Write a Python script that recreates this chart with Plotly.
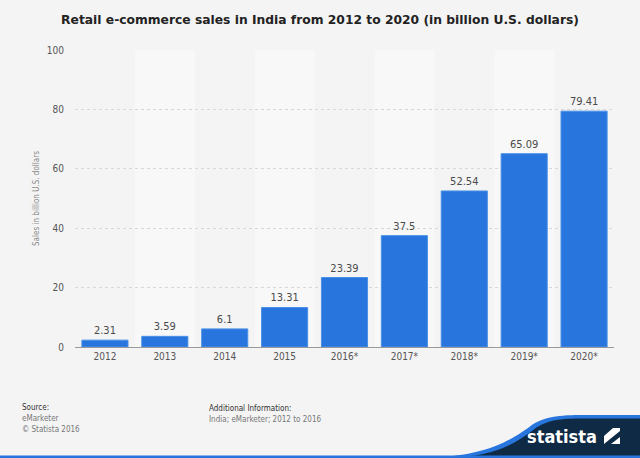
import plotly.graph_objects as go

years = ["2012", "2013", "2014", "2015", "2016*", "2017*", "2018*", "2019*", "2020*"]
sales = [2.31, 3.59, 6.1, 13.31, 23.39, 37.5, 52.54, 65.09, 79.41]
labels = ["2.31", "3.59", "6.1", "13.31", "23.39", "37.5", "52.54", "65.09", "79.41"]
y_ticks = [0, 20, 40, 60, 80, 100]

W, H = 640, 458
L, R, T, B = 75, 614, 50, 347
FONT = "DejaVu Sans Condensed, DejaVu Sans"

def px(x):
    return (x - L) / (R - L)

def py(y):
    return (B - y) / (B - T)

fig = go.Figure()
fig.add_trace(go.Bar(
    x=years, y=sales, text=labels, textposition="outside",
    textfont=dict(family=FONT, size=11, color="#4a4a4a"),
    marker=dict(color="#2876dd", line=dict(color="#4a90e8", width=1)),
    width=0.77, cliponaxis=False, hoverinfo="skip",
))

shapes = []
for i in range(1, len(years), 2):
    shapes.append(dict(type="rect", xref="x", yref="paper", x0=i - 0.5, x1=i + 0.5,
                       y0=0, y1=1, fillcolor="#f8f8f8", line=dict(width=0), layer="below"))

swoosh = (f"M {px(430)} {py(458)} "
          f"C {px(490)} {py(455)}, {px(510)} {py(440)}, {px(528)} {py(428)} "
          f"C {px(540)} {py(418)}, {px(555)} {py(415)}, {px(580)} {py(415)} "
          f"L {px(642)} {py(415)} L {px(642)} {py(458)} Z")
navy = (f"M {px(452)} {py(458)} "
        f"C {px(500)} {py(455)}, {px(516)} {py(442)}, {px(532)} {py(431)} "
        f"C {px(544)} {py(421)}, {px(557)} {py(418.5)}, {px(580)} {py(418.5)} "
        f"L {px(642)} {py(418.5)} L {px(642)} {py(458)} Z")
bottom_line = f"M {px(-2)} {py(455.5)} L {px(642)} {py(455.5)} L {px(642)} {py(459)} L {px(-2)} {py(459)} Z"
shapes += [
    dict(type="path", xref="paper", yref="paper", path=swoosh, fillcolor="#2876dd", line=dict(width=0)),
    dict(type="path", xref="paper", yref="paper", path=navy, fillcolor="#0f2a45", line=dict(width=0)),
    dict(type="path", xref="paper", yref="paper", path=bottom_line, fillcolor="#2876dd", line=dict(width=0)),
    dict(type="rect", xref="paper", yref="paper", x0=px(604), x1=px(620), y0=py(444), y1=py(428),
         fillcolor="white", line=dict(width=0)),
    dict(type="path", xref="paper", yref="paper",
         path=f"M {px(604)} {py(444)} L {px(620)} {py(431)} L {px(620)} {py(437)} L {px(611)} {py(444)} Z",
         fillcolor="#0f2a45", line=dict(width=0)),
    dict(type="path", xref="paper", yref="paper",
         path=f"M {px(604)} {py(428)} L {px(613)} {py(428)} L {px(604)} {py(436)} Z",
         fillcolor="#0f2a45", line=dict(width=0)),
]

ann = [
    dict(text="Source:", x=20, y=407, color="#333"),
    dict(text="eMarketer", x=20, y=418, color="#777"),
    dict(text="© Statista 2016", x=20, y=429, color="#777"),
    dict(text="Additional Information:", x=207, y=408, color="#333"),
    dict(text="India; eMarketer; 2012 to 2016", x=207, y=420, color="#777"),
]
annotations = []
for a in ann:
    annotations.append(dict(text=a["text"], xref="paper", yref="paper", x=px(a["x"]), y=py(a["y"]),
                            xanchor="left", yanchor="middle", showarrow=False,
                            font=dict(family=FONT, size=8, color=a["color"])))
annotations.append(dict(text="<b>statista</b>", xref="paper", yref="paper", x=px(599), y=py(436),
                        xanchor="right", yanchor="middle", showarrow=False,
                        font=dict(family=FONT, size=18, color="white")))

fig.update_layout(
    width=W, height=H,
    paper_bgcolor="#f4f4f4", plot_bgcolor="#f4f4f4",
    margin=dict(l=L, r=W - R, t=T, b=H - B),
    showlegend=False,
    shapes=shapes,
    annotations=annotations,
    title=dict(text="<b>Retail e-commerce sales in India from 2012 to 2020 (in billion U.S. dollars)</b>",
               x=0.5, xref="container", y=1 - 20 / H, yanchor="middle", xanchor="center",
               font=dict(family="DejaVu Sans", size=12.3, color="#222")),
    xaxis=dict(type="category", showgrid=False, showline=True, linecolor="#999", linewidth=1,
               ticks="", tickfont=dict(family=FONT, size=10, color="#555")),
    yaxis=dict(range=[0, 100], tickvals=y_ticks, showgrid=True, gridcolor="#d8d8d8", griddash="dot",
               zeroline=False, ticks="", ticklabelstandoff=10,
               tickfont=dict(family=FONT, size=10, color="#555"),
               title=dict(text="Sales in billion U.S. dollars", standoff=6,
                          font=dict(family=FONT, size=8, color="#888"))),
)
fig.write_html("out.html", config={"displayModeBar": False},
               post_script="document.body.style.margin='0';document.body.style.overflow='hidden';")
